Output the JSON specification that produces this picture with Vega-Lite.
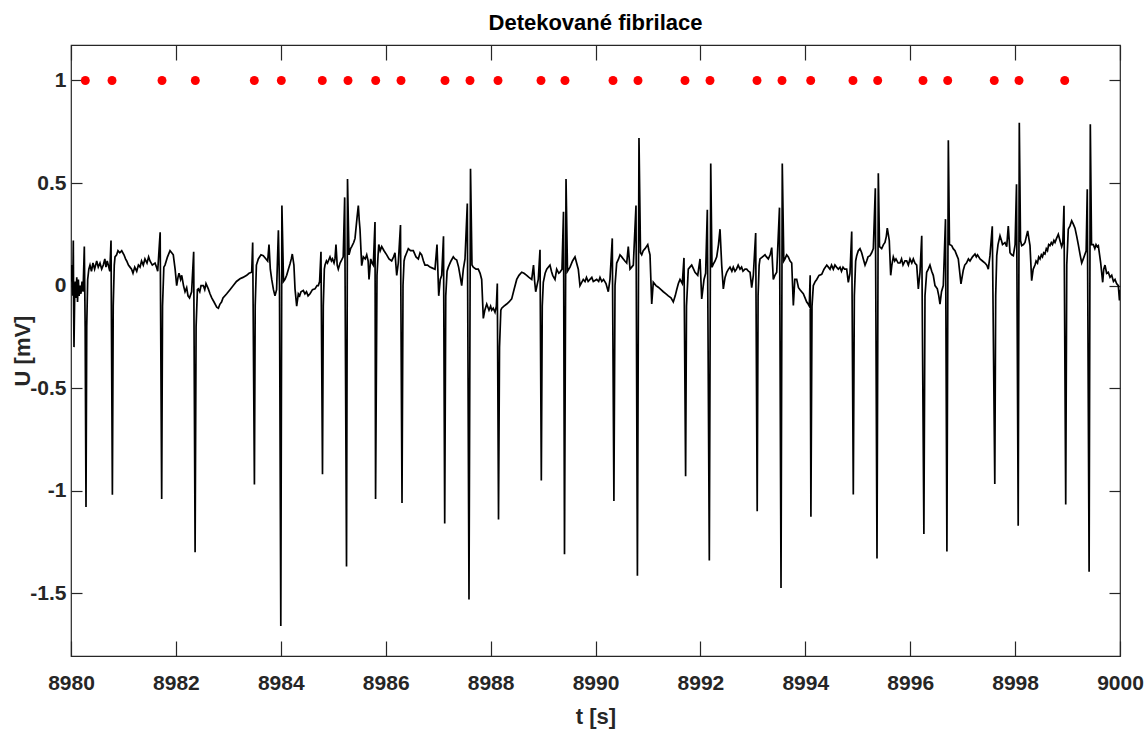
{
"$schema":"https://vega.github.io/schema/vega-lite/v6.json",
"autosize":{"type":"none"},
"width":1049,"height":611,
"padding":{"left":71,"top":45,"right":24,"bottom":80},
"background":"white",
"title":{"text":"Detekované fibrilace","font":"Liberation Sans, Arial, sans-serif","fontSize":22,"fontWeight":"bold","color":"#000000","anchor":"middle","offset":9},
"config":{"view":{"stroke":"#262626","strokeWidth":1.2},"axis":{"grid":false,"domain":false,"labelFlush":false,"labelFont":"Liberation Sans, Arial, sans-serif","titleFont":"Liberation Sans, Arial, sans-serif","labelFontWeight":"bold","titleFontWeight":"bold","labelFontSize":21,"titleFontSize":22,"labelColor":"#262626","titleColor":"#262626","tickColor":"#262626","tickWidth":1.2}},
"datasets":{
"ecg":[
{"t":8980.000,"u":0.02},{"t":8980.010,"u":0.10},{"t":8980.019,"u":0.05},{"t":8980.032,"u":-0.05},{"t":8980.044,"u":0.22},{"t":8980.050,"u":-0.10},{"t":8980.057,"u":-0.30},{"t":8980.070,"u":-0.05},{"t":8980.082,"u":0.02},{"t":8980.095,"u":-0.06},{"t":8980.110,"u":0.04},{"t":8980.125,"u":-0.08},{"t":8980.140,"u":0.03},{"t":8980.155,"u":-0.05},{"t":8980.172,"u":0.00},{"t":8980.190,"u":-0.04},{"t":8980.210,"u":0.02},{"t":8980.230,"u":-0.03},{"t":8980.254,"u":0.19},{"t":8980.270,"u":-0.2},{"t":8980.286,"u":-1.08},{"t":8980.300,"u":-0.2},{"t":8980.318,"u":0.03},{"t":8980.340,"u":0.08},{"t":8980.362,"u":0.10},{"t":8980.390,"u":0.07},{"t":8980.419,"u":0.11},{"t":8980.450,"u":0.08},{"t":8980.490,"u":0.12},{"t":8980.520,"u":0.09},{"t":8980.553,"u":0.11},{"t":8980.585,"u":0.08},{"t":8980.616,"u":0.10},{"t":8980.645,"u":0.13},{"t":8980.667,"u":0.09},{"t":8980.690,"u":0.12},{"t":8980.711,"u":0.10},{"t":8980.740,"u":0.07},{"t":8980.763,"u":0.22},{"t":8980.789,"u":-1.02},{"t":8980.805,"u":-0.1},{"t":8980.825,"u":0.10},{"t":8980.839,"u":0.14},{"t":8980.870,"u":0.15},{"t":8980.896,"u":0.17},{"t":8980.930,"u":0.16},{"t":8980.967,"u":0.17},{"t":8981.010,"u":0.15},{"t":8981.040,"u":0.13},{"t":8981.062,"u":0.12},{"t":8981.095,"u":0.10},{"t":8981.125,"u":0.09},{"t":8981.155,"u":0.08},{"t":8981.182,"u":0.06},{"t":8981.215,"u":0.09},{"t":8981.253,"u":0.07},{"t":8981.285,"u":0.10},{"t":8981.316,"u":0.09},{"t":8981.345,"u":0.12},{"t":8981.378,"u":0.10},{"t":8981.410,"u":0.13},{"t":8981.449,"u":0.11},{"t":8981.480,"u":0.14},{"t":8981.506,"u":0.12},{"t":8981.550,"u":0.10},{"t":8981.602,"u":0.11},{"t":8981.630,"u":0.09},{"t":8981.653,"u":0.07},{"t":8981.700,"u":0.26},{"t":8981.729,"u":-1.04},{"t":8981.745,"u":-0.1},{"t":8981.770,"u":0.09},{"t":8981.792,"u":0.10},{"t":8981.840,"u":0.14},{"t":8981.888,"u":0.17},{"t":8981.920,"u":0.16},{"t":8981.950,"u":0.15},{"t":8981.985,"u":0.08},{"t":8982.015,"u":0.00},{"t":8982.040,"u":0.04},{"t":8982.059,"u":0.06},{"t":8982.090,"u":0.03},{"t":8982.111,"u":0.05},{"t":8982.145,"u":0.00},{"t":8982.174,"u":-0.03},{"t":8982.205,"u":-0.01},{"t":8982.231,"u":-0.05},{"t":8982.260,"u":-0.06},{"t":8982.300,"u":-0.03},{"t":8982.339,"u":0.165},{"t":8982.366,"u":-1.30},{"t":8982.385,"u":-0.2},{"t":8982.410,"u":-0.02},{"t":8982.427,"u":-0.016},{"t":8982.455,"u":-0.03},{"t":8982.479,"u":0.00},{"t":8982.522,"u":0.00},{"t":8982.550,"u":-0.02},{"t":8982.574,"u":0.01},{"t":8982.618,"u":-0.016},{"t":8982.650,"u":-0.04},{"t":8982.683,"u":-0.06},{"t":8982.727,"u":-0.08},{"t":8982.778,"u":-0.105},{"t":8982.810,"u":-0.11},{"t":8982.841,"u":-0.09},{"t":8982.870,"u":-0.08},{"t":8982.898,"u":-0.06},{"t":8982.969,"u":-0.04},{"t":8983.031,"u":-0.02},{"t":8983.094,"u":0.00},{"t":8983.155,"u":0.02},{"t":8983.222,"u":0.033},{"t":8983.279,"u":0.04},{"t":8983.350,"u":0.05},{"t":8983.394,"u":0.06},{"t":8983.445,"u":0.065},{"t":8983.464,"u":0.21},{"t":8983.497,"u":-0.97},{"t":8983.512,"u":-0.1},{"t":8983.535,"u":0.10},{"t":8983.571,"u":0.13},{"t":8983.622,"u":0.15},{"t":8983.666,"u":0.146},{"t":8983.718,"u":0.13},{"t":8983.750,"u":0.12},{"t":8983.775,"u":0.20},{"t":8983.800,"u":0.08},{"t":8983.827,"u":0.03},{"t":8983.860,"u":-0.02},{"t":8983.889,"u":-0.05},{"t":8983.920,"u":-0.02},{"t":8983.954,"u":0.27},{"t":8983.975,"u":0.0},{"t":8984.000,"u":-1.66},{"t":8984.021,"u":0.39},{"t":8984.052,"u":0.02},{"t":8984.080,"u":0.03},{"t":8984.112,"u":0.05},{"t":8984.145,"u":0.08},{"t":8984.175,"u":0.105},{"t":8984.200,"u":0.13},{"t":8984.219,"u":0.154},{"t":8984.250,"u":0.10},{"t":8984.271,"u":-0.016},{"t":8984.303,"u":-0.10},{"t":8984.334,"u":-0.04},{"t":8984.360,"u":-0.05},{"t":8984.385,"u":-0.03},{"t":8984.429,"u":-0.024},{"t":8984.460,"u":-0.04},{"t":8984.490,"u":-0.03},{"t":8984.520,"u":-0.05},{"t":8984.557,"u":-0.04},{"t":8984.604,"u":-0.02},{"t":8984.652,"u":-0.016},{"t":8984.690,"u":0.00},{"t":8984.715,"u":0.00},{"t":8984.740,"u":0.02},{"t":8984.766,"u":0.165},{"t":8984.795,"u":-0.92},{"t":8984.810,"u":-0.1},{"t":8984.830,"u":0.08},{"t":8984.843,"u":0.10},{"t":8984.870,"u":0.12},{"t":8984.890,"u":0.11},{"t":8984.938,"u":0.14},{"t":8984.965,"u":0.12},{"t":8984.986,"u":0.13},{"t":8985.015,"u":0.11},{"t":8985.033,"u":0.13},{"t":8985.052,"u":0.20},{"t":8985.075,"u":0.10},{"t":8985.096,"u":0.08},{"t":8985.130,"u":0.11},{"t":8985.161,"u":0.125},{"t":8985.190,"u":0.14},{"t":8985.218,"u":0.43},{"t":8985.253,"u":-1.37},{"t":8985.272,"u":0.52},{"t":8985.300,"u":0.15},{"t":8985.330,"u":0.18},{"t":8985.352,"u":0.19},{"t":8985.390,"u":0.21},{"t":8985.415,"u":0.23},{"t":8985.453,"u":0.33},{"t":8985.478,"u":0.39},{"t":8985.495,"u":0.32},{"t":8985.510,"u":0.275},{"t":8985.542,"u":0.097},{"t":8985.573,"u":0.14},{"t":8985.610,"u":0.13},{"t":8985.638,"u":0.15},{"t":8985.665,"u":0.12},{"t":8985.682,"u":0.03},{"t":8985.714,"u":0.13},{"t":8985.740,"u":0.11},{"t":8985.764,"u":0.10},{"t":8985.796,"u":0.31},{"t":8985.807,"u":-1.04},{"t":8985.834,"u":0.05},{"t":8985.855,"u":0.15},{"t":8985.868,"u":0.20},{"t":8985.895,"u":0.17},{"t":8985.924,"u":0.19},{"t":8985.968,"u":0.17},{"t":8986.019,"u":0.15},{"t":8986.063,"u":0.13},{"t":8986.114,"u":0.12},{"t":8986.150,"u":0.14},{"t":8986.177,"u":0.16},{"t":8986.210,"u":0.05},{"t":8986.240,"u":0.11},{"t":8986.282,"u":0.295},{"t":8986.311,"u":-1.06},{"t":8986.330,"u":0.0},{"t":8986.350,"u":0.12},{"t":8986.368,"u":0.14},{"t":8986.400,"u":0.16},{"t":8986.431,"u":0.18},{"t":8986.473,"u":0.17},{"t":8986.526,"u":0.17},{"t":8986.578,"u":0.14},{"t":8986.622,"u":0.13},{"t":8986.655,"u":0.16},{"t":8986.686,"u":0.15},{"t":8986.720,"u":0.12},{"t":8986.749,"u":0.10},{"t":8986.797,"u":0.10},{"t":8986.845,"u":0.09},{"t":8986.892,"u":0.085},{"t":8986.940,"u":0.08},{"t":8986.978,"u":0.20},{"t":8987.011,"u":-0.05},{"t":8987.040,"u":0.03},{"t":8987.068,"u":0.05},{"t":8987.102,"u":0.24},{"t":8987.125,"u":-1.16},{"t":8987.145,"u":-0.05},{"t":8987.170,"u":0.07},{"t":8987.194,"u":0.09},{"t":8987.245,"u":0.12},{"t":8987.289,"u":0.14},{"t":8987.320,"u":0.13},{"t":8987.354,"u":0.125},{"t":8987.390,"u":0.09},{"t":8987.417,"u":0.05},{"t":8987.449,"u":0.00},{"t":8987.480,"u":0.08},{"t":8987.512,"u":0.13},{"t":8987.556,"u":0.40},{"t":8987.588,"u":-1.53},{"t":8987.617,"u":0.57},{"t":8987.645,"u":0.10},{"t":8987.670,"u":0.09},{"t":8987.722,"u":0.08},{"t":8987.765,"u":0.08},{"t":8987.800,"u":0.06},{"t":8987.830,"u":0.03},{"t":8987.861,"u":-0.16},{"t":8987.890,"u":-0.12},{"t":8987.926,"u":-0.09},{"t":8987.969,"u":-0.12},{"t":8988.000,"u":-0.10},{"t":8988.021,"u":-0.12},{"t":8988.050,"u":-0.11},{"t":8988.084,"u":-0.13},{"t":8988.110,"u":-0.10},{"t":8988.128,"u":0.01},{"t":8988.151,"u":-1.14},{"t":8988.170,"u":-0.3},{"t":8988.195,"u":-0.12},{"t":8988.212,"u":-0.11},{"t":8988.255,"u":-0.10},{"t":8988.307,"u":-0.09},{"t":8988.351,"u":-0.08},{"t":8988.402,"u":-0.065},{"t":8988.446,"u":-0.02},{"t":8988.498,"u":0.03},{"t":8988.541,"u":0.05},{"t":8988.593,"u":0.065},{"t":8988.637,"u":0.06},{"t":8988.688,"u":0.05},{"t":8988.732,"u":0.04},{"t":8988.784,"u":0.03},{"t":8988.818,"u":0.10},{"t":8988.840,"u":0.02},{"t":8988.860,"u":-0.03},{"t":8988.909,"u":0.03},{"t":8988.942,"u":0.175},{"t":8988.967,"u":-0.95},{"t":8988.985,"u":-0.1},{"t":8989.005,"u":0.016},{"t":8989.040,"u":0.06},{"t":8989.070,"u":0.08},{"t":8989.132,"u":0.10},{"t":8989.160,"u":0.07},{"t":8989.184,"u":0.05},{"t":8989.228,"u":0.03},{"t":8989.260,"u":0.08},{"t":8989.300,"u":0.06},{"t":8989.323,"u":0.065},{"t":8989.361,"u":0.08},{"t":8989.390,"u":0.36},{"t":8989.409,"u":-1.31},{"t":8989.438,"u":0.52},{"t":8989.466,"u":0.07},{"t":8989.514,"u":0.09},{"t":8989.562,"u":0.12},{"t":8989.609,"u":0.14},{"t":8989.640,"u":0.11},{"t":8989.672,"u":0.08},{"t":8989.704,"u":0.00},{"t":8989.767,"u":0.03},{"t":8989.800,"u":0.02},{"t":8989.828,"u":0.04},{"t":8989.860,"u":0.02},{"t":8989.895,"u":0.03},{"t":8989.930,"u":0.04},{"t":8989.958,"u":0.02},{"t":8990.023,"u":0.03},{"t":8990.060,"u":0.02},{"t":8990.086,"u":0.04},{"t":8990.120,"u":0.02},{"t":8990.153,"u":0.03},{"t":8990.200,"u":0.01},{"t":8990.244,"u":-0.03},{"t":8990.276,"u":0.03},{"t":8990.320,"u":0.23},{"t":8990.351,"u":-1.05},{"t":8990.372,"u":0.0},{"t":8990.404,"u":0.11},{"t":8990.440,"u":0.13},{"t":8990.467,"u":0.15},{"t":8990.500,"u":0.14},{"t":8990.530,"u":0.13},{"t":8990.560,"u":0.12},{"t":8990.595,"u":0.11},{"t":8990.625,"u":0.19},{"t":8990.658,"u":0.08},{"t":8990.690,"u":0.09},{"t":8990.721,"u":0.10},{"t":8990.772,"u":0.39},{"t":8990.799,"u":-1.415},{"t":8990.829,"u":0.72},{"t":8990.858,"u":0.16},{"t":8990.881,"u":0.15},{"t":8990.910,"u":0.17},{"t":8990.944,"u":0.18},{"t":8990.996,"u":0.20},{"t":8991.020,"u":0.17},{"t":8991.039,"u":0.15},{"t":8991.072,"u":-0.09},{"t":8991.102,"u":0.016},{"t":8991.153,"u":0.00},{"t":8991.197,"u":-0.008},{"t":8991.249,"u":-0.02},{"t":8991.293,"u":-0.03},{"t":8991.344,"u":-0.04},{"t":8991.388,"u":-0.05},{"t":8991.439,"u":-0.06},{"t":8991.483,"u":-0.08},{"t":8991.520,"u":-0.05},{"t":8991.548,"u":-0.02},{"t":8991.580,"u":0.01},{"t":8991.611,"u":0.03},{"t":8991.655,"u":0.01},{"t":8991.687,"u":0.135},{"t":8991.718,"u":-0.93},{"t":8991.735,"u":-0.1},{"t":8991.769,"u":0.08},{"t":8991.800,"u":0.09},{"t":8991.834,"u":0.10},{"t":8991.870,"u":0.08},{"t":8991.897,"u":0.065},{"t":8991.949,"u":0.05},{"t":8991.993,"u":0.13},{"t":8992.025,"u":-0.065},{"t":8992.069,"u":0.03},{"t":8992.100,"u":0.06},{"t":8992.132,"u":0.37},{"t":8992.170,"u":-1.34},{"t":8992.197,"u":0.595},{"t":8992.221,"u":0.09},{"t":8992.246,"u":0.105},{"t":8992.280,"u":0.12},{"t":8992.311,"u":0.14},{"t":8992.345,"u":0.20},{"t":8992.374,"u":0.275},{"t":8992.406,"u":0.10},{"t":8992.437,"u":-0.016},{"t":8992.470,"u":0.04},{"t":8992.502,"u":0.065},{"t":8992.535,"u":0.08},{"t":8992.564,"u":0.09},{"t":8992.600,"u":0.07},{"t":8992.627,"u":0.09},{"t":8992.660,"u":0.07},{"t":8992.688,"u":0.08},{"t":8992.720,"u":0.10},{"t":8992.755,"u":0.08},{"t":8992.785,"u":0.09},{"t":8992.812,"u":0.07},{"t":8992.850,"u":0.08},{"t":8992.883,"u":0.08},{"t":8992.915,"u":0.07},{"t":8992.946,"u":0.065},{"t":8992.978,"u":-0.01},{"t":8993.009,"u":0.05},{"t":8993.054,"u":0.256},{"t":8993.083,"u":-1.10},{"t":8993.100,"u":-0.05},{"t":8993.120,"u":0.10},{"t":8993.136,"u":0.13},{"t":8993.184,"u":0.14},{"t":8993.232,"u":0.15},{"t":8993.260,"u":0.14},{"t":8993.295,"u":0.13},{"t":8993.330,"u":0.15},{"t":8993.360,"u":0.185},{"t":8993.390,"u":0.03},{"t":8993.420,"u":0.05},{"t":8993.455,"u":0.065},{"t":8993.508,"u":0.38},{"t":8993.537,"u":-1.475},{"t":8993.561,"u":0.595},{"t":8993.590,"u":0.12},{"t":8993.613,"u":0.13},{"t":8993.645,"u":0.15},{"t":8993.676,"u":0.14},{"t":8993.710,"u":0.12},{"t":8993.741,"u":0.11},{"t":8993.772,"u":-0.097},{"t":8993.800,"u":0.03},{"t":8993.836,"u":0.03},{"t":8993.870,"u":-0.01},{"t":8993.899,"u":-0.02},{"t":8993.930,"u":-0.03},{"t":8993.962,"u":-0.04},{"t":8993.995,"u":-0.06},{"t":8994.027,"u":-0.08},{"t":8994.055,"u":-0.09},{"t":8994.076,"u":-0.10},{"t":8994.093,"u":0.05},{"t":8994.107,"u":-1.127},{"t":8994.128,"u":-0.1},{"t":8994.153,"u":0.00},{"t":8994.190,"u":0.02},{"t":8994.218,"u":0.03},{"t":8994.261,"u":0.05},{"t":8994.313,"u":0.055},{"t":8994.357,"u":0.08},{"t":8994.409,"u":0.10},{"t":8994.440,"u":0.09},{"t":8994.471,"u":0.08},{"t":8994.500,"u":0.10},{"t":8994.534,"u":0.08},{"t":8994.565,"u":0.10},{"t":8994.595,"u":0.09},{"t":8994.630,"u":0.08},{"t":8994.662,"u":0.09},{"t":8994.690,"u":0.07},{"t":8994.719,"u":0.09},{"t":8994.750,"u":0.08},{"t":8994.789,"u":0.08},{"t":8994.820,"u":0.016},{"t":8994.852,"u":0.06},{"t":8994.885,"u":0.264},{"t":8994.915,"u":-1.018},{"t":8994.935,"u":-0.05},{"t":8994.960,"u":0.12},{"t":8994.980,"u":0.146},{"t":8995.010,"u":0.17},{"t":8995.043,"u":0.18},{"t":8995.075,"u":0.16},{"t":8995.106,"u":0.13},{"t":8995.139,"u":0.10},{"t":8995.170,"u":0.12},{"t":8995.196,"u":0.14},{"t":8995.234,"u":0.146},{"t":8995.265,"u":0.16},{"t":8995.297,"u":0.18},{"t":8995.335,"u":0.475},{"t":8995.367,"u":-1.331},{"t":8995.392,"u":0.548},{"t":8995.415,"u":0.19},{"t":8995.456,"u":0.18},{"t":8995.490,"u":0.20},{"t":8995.519,"u":0.21},{"t":8995.545,"u":0.24},{"t":8995.563,"u":0.28},{"t":8995.583,"u":0.25},{"t":8995.601,"u":0.22},{"t":8995.628,"u":0.05},{"t":8995.650,"u":0.10},{"t":8995.678,"u":0.14},{"t":8995.705,"u":0.12},{"t":8995.729,"u":0.13},{"t":8995.770,"u":0.11},{"t":8995.805,"u":0.11},{"t":8995.835,"u":0.13},{"t":8995.863,"u":0.10},{"t":8995.900,"u":0.12},{"t":8995.933,"u":0.12},{"t":8995.965,"u":0.10},{"t":8995.996,"u":0.13},{"t":8996.030,"u":0.11},{"t":8996.059,"u":0.13},{"t":8996.090,"u":0.11},{"t":8996.124,"u":0.10},{"t":8996.155,"u":-0.016},{"t":8996.187,"u":0.065},{"t":8996.220,"u":0.243},{"t":8996.261,"u":-1.211},{"t":8996.282,"u":-0.05},{"t":8996.314,"u":0.065},{"t":8996.345,"u":0.08},{"t":8996.377,"u":0.10},{"t":8996.410,"u":0.07},{"t":8996.440,"u":0.05},{"t":8996.473,"u":0.00},{"t":8996.517,"u":-0.016},{"t":8996.545,"u":-0.05},{"t":8996.568,"u":-0.09},{"t":8996.597,"u":-0.03},{"t":8996.631,"u":0.00},{"t":8996.673,"u":0.324},{"t":8996.700,"u":-1.297},{"t":8996.727,"u":0.708},{"t":8996.749,"u":0.20},{"t":8996.791,"u":0.195},{"t":8996.820,"u":0.18},{"t":8996.854,"u":0.17},{"t":8996.885,"u":0.15},{"t":8996.917,"u":0.13},{"t":8996.968,"u":0.008},{"t":8997.012,"u":0.075},{"t":8997.040,"u":0.10},{"t":8997.073,"u":0.11},{"t":8997.110,"u":0.13},{"t":8997.140,"u":0.12},{"t":8997.188,"u":0.14},{"t":8997.235,"u":0.154},{"t":8997.260,"u":0.14},{"t":8997.283,"u":0.15},{"t":8997.331,"u":0.13},{"t":8997.378,"u":0.12},{"t":8997.426,"u":0.11},{"t":8997.460,"u":0.10},{"t":8997.489,"u":0.08},{"t":8997.521,"u":0.146},{"t":8997.565,"u":0.289},{"t":8997.613,"u":-0.967},{"t":8997.630,"u":-0.05},{"t":8997.650,"u":0.146},{"t":8997.674,"u":0.20},{"t":8997.712,"u":0.243},{"t":8997.740,"u":0.22},{"t":8997.760,"u":0.20},{"t":8997.807,"u":0.21},{"t":8997.840,"u":0.19},{"t":8997.870,"u":0.29},{"t":8997.903,"u":0.16},{"t":8997.935,"u":0.15},{"t":8997.966,"u":0.146},{"t":8998.000,"u":0.20},{"t":8998.027,"u":0.494},{"t":8998.059,"u":-1.171},{"t":8998.080,"u":0.794},{"t":8998.103,"u":0.22},{"t":8998.126,"u":0.195},{"t":8998.160,"u":0.20},{"t":8998.189,"u":0.21},{"t":8998.215,"u":0.24},{"t":8998.240,"u":0.267},{"t":8998.262,"u":0.23},{"t":8998.284,"u":0.195},{"t":8998.316,"u":0.024},{"t":8998.345,"u":0.08},{"t":8998.379,"u":0.10},{"t":8998.400,"u":0.12},{"t":8998.427,"u":0.11},{"t":8998.450,"u":0.14},{"t":8998.475,"u":0.13},{"t":8998.500,"u":0.15},{"t":8998.522,"u":0.14},{"t":8998.545,"u":0.16},{"t":8998.570,"u":0.154},{"t":8998.595,"u":0.18},{"t":8998.618,"u":0.17},{"t":8998.640,"u":0.20},{"t":8998.665,"u":0.195},{"t":8998.690,"u":0.21},{"t":8998.713,"u":0.20},{"t":8998.740,"u":0.22},{"t":8998.761,"u":0.21},{"t":8998.790,"u":0.23},{"t":8998.824,"u":0.25},{"t":8998.855,"u":0.22},{"t":8998.888,"u":0.19},{"t":8998.910,"u":0.21},{"t":8998.932,"u":0.389},{"t":8998.965,"u":-1.067},{"t":8998.985,"u":0.1},{"t":8999.014,"u":0.275},{"t":8999.045,"u":0.29},{"t":8999.079,"u":0.316},{"t":8999.110,"u":0.30},{"t":8999.142,"u":0.28},{"t":8999.175,"u":0.24},{"t":8999.205,"u":0.20},{"t":8999.240,"u":0.15},{"t":8999.270,"u":0.11},{"t":8999.300,"u":0.13},{"t":8999.333,"u":0.154},{"t":8999.355,"u":0.17},{"t":8999.376,"u":0.47},{"t":8999.411,"u":-1.395},{"t":8999.434,"u":0.787},{"t":8999.457,"u":0.20},{"t":8999.491,"u":0.20},{"t":8999.520,"u":0.18},{"t":8999.543,"u":0.20},{"t":8999.565,"u":0.19},{"t":8999.587,"u":0.195},{"t":8999.632,"u":0.11},{"t":8999.670,"u":0.016},{"t":8999.690,"u":0.08},{"t":8999.714,"u":0.10},{"t":8999.745,"u":0.06},{"t":8999.777,"u":0.065},{"t":8999.810,"u":0.04},{"t":8999.842,"u":0.05},{"t":8999.875,"u":0.02},{"t":8999.905,"u":0.03},{"t":8999.935,"u":0.01},{"t":8999.968,"u":0.00},{"t":8999.990,"u":-0.073},{"t":9000.000,"u":-0.02}
],
"det":[
{"t":8980.273,"u":1},{"t":8980.782,"u":1},{"t":8981.735,"u":1},{"t":8982.370,"u":1},{"t":8983.495,"u":1},{"t":8984.010,"u":1},{"t":8984.791,"u":1},{"t":8985.281,"u":1},{"t":8985.809,"u":1},{"t":8986.292,"u":1},{"t":8987.131,"u":1},{"t":8987.607,"u":1},{"t":8988.141,"u":1},{"t":8988.961,"u":1},{"t":8989.418,"u":1},{"t":8990.334,"u":1},{"t":8990.810,"u":1},{"t":8991.706,"u":1},{"t":8992.183,"u":1},{"t":8993.079,"u":1},{"t":8993.556,"u":1},{"t":8994.103,"u":1},{"t":8994.909,"u":1},{"t":8995.380,"u":1},{"t":8996.244,"u":1},{"t":8996.715,"u":1},{"t":8997.603,"u":1},{"t":8998.074,"u":1},{"t":8998.946,"u":1}
]
},
"layer":[
{"data":{"name":"ecg"},"mark":{"type":"line","color":"#000000","strokeWidth":1.7,"clip":true},
"encoding":{
"x":{"field":"t","type":"quantitative","scale":{"domain":[8980,9000],"nice":false,"zero":false},
"axis":{"orient":"bottom","values":[8980,8982,8984,8986,8988,8990,8992,8994,8996,8998,9000],"labelExpr":"'' + datum.value","tickSize":-15,"labelPadding":31,"title":"t [s]","titleY":60,"titleBaseline":"middle"}},
"y":{"field":"u","type":"quantitative","scale":{"domain":[-1.806,1.173],"nice":false,"zero":false},
"axis":{"orient":"left","values":[-1.5,-1,-0.5,0,0.5,1],"labelExpr":"'' + datum.value","tickSize":-11,"labelPadding":16,"title":"U [mV]","titleX":-49,"titleBaseline":"middle"}}
}},
{"data":{"name":"det"},"mark":{"type":"point","filled":true,"shape":"circle","color":"#ff0000","size":80,"opacity":1},
"encoding":{
"x":{"field":"t","type":"quantitative","scale":{"domain":[8980,9000],"nice":false,"zero":false},
"axis":{"orient":"top","values":[8980,8982,8984,8986,8988,8990,8992,8994,8996,8998,9000],"labels":false,"tickSize":-15,"title":null}},
"y":{"field":"u","type":"quantitative","scale":{"domain":[-1.806,1.173],"nice":false,"zero":false},
"axis":{"orient":"right","values":[-1.5,-1,-0.5,0,0.5,1],"labels":false,"tickSize":-11,"title":null}}
}}
],
"resolve":{"axis":{"x":"independent","y":"independent"}}
}
